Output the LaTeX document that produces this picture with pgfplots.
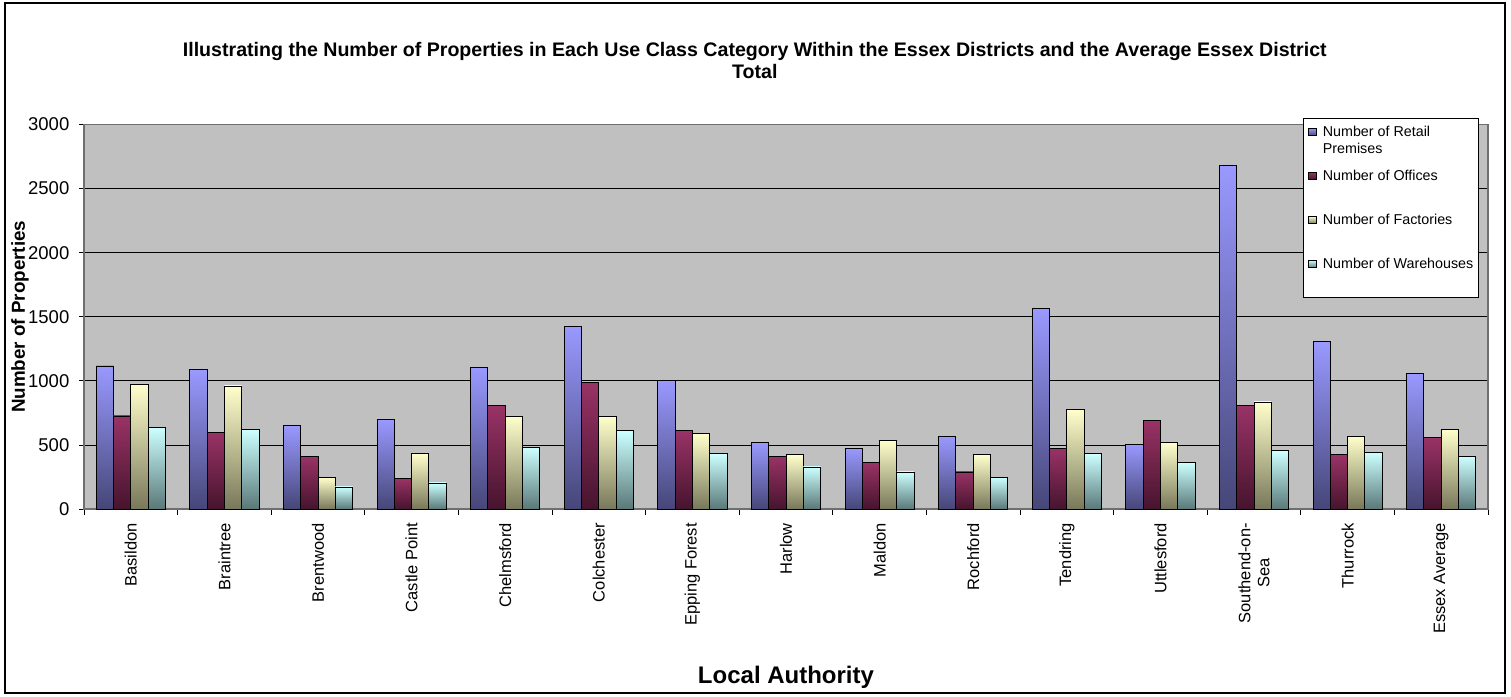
\documentclass[border=0pt]{standalone}
\usepackage{fontspec}
\setmainfont{Liberation Sans}
\usepackage{pgfplots}
\usepackage{pgfplotstable}
\pgfplotsset{compat=1.18}
\definecolor{plotbg}{RGB}{192,192,192}
\definecolor{rtop}{RGB}{153,153,255}
\definecolor{rbot}{RGB}{70,70,120}
\definecolor{otop}{RGB}{153,51,102}
\definecolor{obot}{RGB}{70,20,45}
\definecolor{ftop}{RGB}{255,255,204}
\definecolor{fbot}{RGB}{120,120,90}
\definecolor{wtop}{RGB}{204,255,255}
\definecolor{wbot}{RGB}{90,120,120}
\definecolor{framegray}{RGB}{110,110,110}
\pgfplotstableread{
x r o f w
0 1116 726 971 637
1 1085 598 960 617
2 650 411 247 172
3 700 237 432 203
4 1106 807 723 481
5 1426 989 723 609
6 1002 609 588 432
7 518 411 422 328
8 474 362 536 289
9 567 289 422 247
10 1561 474 775 432
11 507 692 518 362
12 2678 807 835 453
13 1304 422 567 442
14 1054 557 619 411
}\datatable
\begin{document}
\begin{tikzpicture}
\useasboundingbox (0pt,0pt) rectangle (1511pt,696pt);
\draw[line width=2pt] (5pt,3pt) rectangle (1505pt,693pt);
\begin{axis}[
  at={(84pt,187pt)}, anchor=south west,
  scale only axis, width=1404pt, height=384.5pt,
  xmin=-0.5, xmax=14.5, ymin=0, ymax=3000,
  ybar, bar width=17.3pt,
  axis background/.style={fill=plotbg},
  axis line style={draw=framegray, line width=1.2pt},
  ymajorgrids=true,
  grid style={draw=black, line width=0.8pt},
  ytick={0,500,...,3000},
  /pgf/number format/assume math mode=true,
  /pgf/number format/1000 sep={},
  yticklabel style={font=\fontsize{18.5}{21}\selectfont, inner xsep=9.5pt},
  tick align=outside,
  xtick pos=left, ytick pos=left,
  major tick length=5pt,
  minor tick length=6pt,
  tick style={draw=black, line width=0.8pt},
  xtick={0,...,14},
  major x tick style={draw=none},
  minor xtick={-0.5,0.5,...,14.5},
  xticklabels={Basildon,Braintree,Brentwood,Castle Point,Chelmsford,Colchester,Epping Forest,Harlow,Maldon,Rochford,Tendring,Uttlesford,{Southend-on-\\Sea},Thurrock,Essex Average},
  xticklabel style={rotate=90, anchor=east, align=center, inner xsep=9pt, font=\fontsize{16.5}{19}\selectfont},
  title={Illustrating the Number of Properties in Each Use Class Category Within the Essex Districts and the Average Essex District\\Total},
  title style={font=\bfseries\fontsize{19.6}{22}\selectfont, align=center, at={(axis description cs:0.4778,1.1498)}, anchor=center},
  xlabel={Local Authority},
  xlabel style={font=\bfseries\fontsize{24}{28}\selectfont, at={(axis description cs:0.5,-0.437)}, anchor=center},
  ylabel={Number of Properties},
  ylabel style={font=\bfseries\fontsize{18.8}{21}\selectfont, at={(axis description cs:-0.0455,0.5)}, anchor=center},
  legend style={at={(axis description cs:0.8682,1.0169)}, anchor=north west,
    fill=white, draw=black, line width=0.8pt,
    inner xsep=5pt, inner ysep=8.5pt,
    column sep=6pt, row sep=31pt,
    font=\fontsize{14.3}{17}\selectfont,
    nodes={inner sep=0pt, text height=10pt, text depth=3pt},
    cells={anchor=base west}},
  legsq/.style={legend image code/.code={\draw[##1, line width=0.8pt] (0pt,1pt) rectangle (7.7pt,8.7pt);}},
  rst/.style={draw=black, line width=0.9pt, top color=rtop, bottom color=rbot},
  ost/.style={draw=black, line width=0.9pt, top color=otop, bottom color=obot},
  fst/.style={draw=black, line width=0.9pt, top color=ftop, bottom color=fbot},
  wst/.style={draw=black, line width=0.9pt, top color=wtop, bottom color=wbot},
]
\pgfplotsinvokeforeach{0,...,14}{
  \addplot[rst, bar shift=-25.95pt, forget plot, x filter/.code={\ifnum\coordindex=#1\relax\else\def\pgfmathresult{}\fi}] table[x=x, y=r] {\datatable};
  \addplot[ost, bar shift=-8.65pt, forget plot, x filter/.code={\ifnum\coordindex=#1\relax\else\def\pgfmathresult{}\fi}] table[x=x, y=o] {\datatable};
  \addplot[fst, bar shift=8.65pt, forget plot, x filter/.code={\ifnum\coordindex=#1\relax\else\def\pgfmathresult{}\fi}] table[x=x, y=f] {\datatable};
  \addplot[wst, bar shift=25.95pt, forget plot, x filter/.code={\ifnum\coordindex=#1\relax\else\def\pgfmathresult{}\fi}] table[x=x, y=w] {\datatable};
}
\addlegendimage{legsq, rst}
\addlegendentry{\begin{tabular}[t]{@{}l@{}}Number of Retail\\Premises\end{tabular}}
\addlegendimage{legsq, ost}
\addlegendentry{Number of Offices}
\addlegendimage{legsq, fst}
\addlegendentry{Number of Factories}
\addlegendimage{legsq, wst}
\addlegendentry[text depth=20pt]{Number of Warehouses}
\end{axis}
\end{tikzpicture}
\end{document}
